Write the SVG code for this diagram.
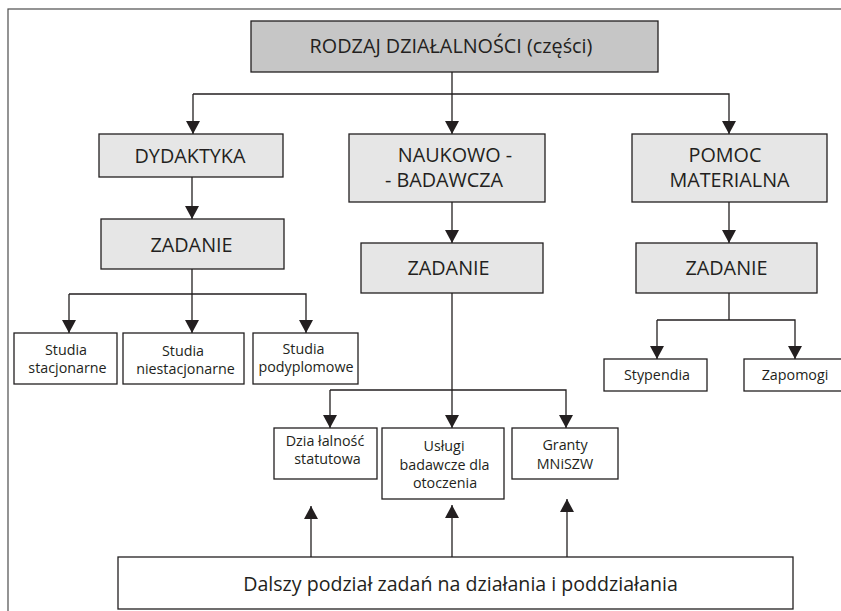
<svg xmlns="http://www.w3.org/2000/svg" width="841" height="611" viewBox="0 0 841 611">
<defs>
<marker id="ah" viewBox="0 0 13 14" refX="13" refY="7" markerWidth="13" markerHeight="14" markerUnits="userSpaceOnUse" orient="auto">
<path d="M0,0 L13,7 L0,14 Z" fill="#231f20"/>
</marker>
<style>
.frame{fill:none;stroke:#4d4d4d;stroke-width:1.2}
.box{stroke:#231f20;stroke-width:1.3}
.top{fill:#c6c6c6}
.mid{fill:#e6e6e6}
.leaf{fill:#ffffff}
.con{fill:none;stroke:#231f20;stroke-width:1.3;marker-end:url(#ah)}
.line{fill:none;stroke:#231f20;stroke-width:1.3}
text{font-family:"Open Sans","Liberation Sans",sans-serif;fill:#231f20;text-anchor:middle}
.t1{font-size:19.8px}
.t2{font-size:14.3px}
.t3{font-size:19.6px}
</style>
</defs>
<rect class="frame" x="8" y="9" width="840" height="610"/>
<g id="connectors">
<path class="line" d="M452,72 V94"/>
<path class="con" d="M193,94 H729 V134"/>
<path class="con" d="M193,94 V134"/>
<path class="con" d="M452,94 V134"/>
<path class="con" d="M192,177 V219"/>
<path class="con" d="M452,202 V243"/>
<path class="con" d="M729,202 V243"/>
<path class="line" d="M192,269 V294"/>
<path class="con" d="M69,294 V333"/>
<path class="con" d="M69,294 H306 V333"/>
<path class="con" d="M192,294 V333"/>
<path class="con" d="M452,293 V428"/>
<path class="con" d="M330,390 V428"/>
<path class="con" d="M330,390 H566 V428"/>
<path class="line" d="M729,293 V320"/>
<path class="con" d="M657,320 V359"/>
<path class="con" d="M657,320 H795 V359"/>
<path class="con" d="M311,557 V506"/>
<path class="con" d="M452,557 V505"/>
<path class="con" d="M567,557 V499"/>
</g>
<g id="n-rodzaj"><rect class="box top" x="251" y="21" width="407" height="51"/><text class="t1" x="451" y="53">RODZAJ DZIAŁALNOŚCI (części)</text></g>
<g id="n-dydaktyka"><rect class="box mid" x="99" y="134" width="184" height="43"/><text class="t1" x="190" y="163">DYDAKTYKA</text></g>
<g id="n-naukowo"><rect class="box mid" x="349" y="134" width="196" height="68"/><text class="t1" x="455" y="162">NAUKOWO -</text><text class="t1" x="444" y="187">- BADAWCZA</text></g>
<g id="n-pomoc"><rect class="box mid" x="632" y="134" width="195" height="68"/><text class="t1" x="725" y="162">POMOC</text><text class="t1" x="729.5" y="187">MATERIALNA</text></g>
<g id="n-zadanie1"><rect class="box mid" x="101" y="219" width="183" height="50"/><text class="t1" x="191.5" y="252">ZADANIE</text></g>
<g id="n-zadanie2"><rect class="box mid" x="361" y="243" width="182" height="50"/><text class="t1" x="448.5" y="275">ZADANIE</text></g>
<g id="n-zadanie3"><rect class="box mid" x="636" y="243" width="181" height="50"/><text class="t1" x="726.5" y="275">ZADANIE</text></g>
<g id="n-stacjonarne"><rect class="box leaf" x="14" y="333" width="103" height="51"/><text class="t2" x="66" y="355">Studia</text><text class="t2" x="67.5" y="373">stacjonarne</text></g>
<g id="n-niestacjonarne"><rect class="box leaf" x="123" y="333" width="121" height="51"/><text class="t2" x="183" y="356">Studia</text><text class="t2" x="185.5" y="374">niestacjonarne</text></g>
<g id="n-podyplomowe"><rect class="box leaf" x="253" y="333" width="105" height="51"/><text class="t2" x="303.5" y="354">Studia</text><text class="t2" x="306" y="372">podyplomowe</text></g>
<g id="n-statutowa"><rect class="box leaf" x="274" y="428" width="103" height="51"/><text class="t2" x="325" y="446">Dzia łalność</text><text class="t2" x="327.5" y="464">statutowa</text></g>
<g id="n-uslugi"><rect class="box leaf" x="382" y="428" width="122" height="71"/><text class="t2" x="444" y="451">Usługi</text><text class="t2" x="444.5" y="470">badawcze dla</text><text class="t2" x="445" y="488">otoczenia</text></g>
<g id="n-granty"><rect class="box leaf" x="512" y="428" width="106" height="51"/><text class="t2" x="565" y="450">Granty</text><text class="t2" x="565" y="469">MNiSZW</text></g>
<g id="n-stypendia"><rect class="box leaf" x="604" y="359" width="103" height="32"/><text class="t2" x="657" y="380">Stypendia</text></g>
<g id="n-zapomogi"><rect class="box leaf" x="744" y="359" width="100" height="32"/><text class="t2" x="795" y="380">Zapomogi</text></g>
<g id="n-dalszy"><rect class="box leaf" x="118" y="557" width="675" height="52"/><text class="t3" x="460.5" y="591">Dalszy podział zadań na działania i poddziałania</text></g>
</svg>
